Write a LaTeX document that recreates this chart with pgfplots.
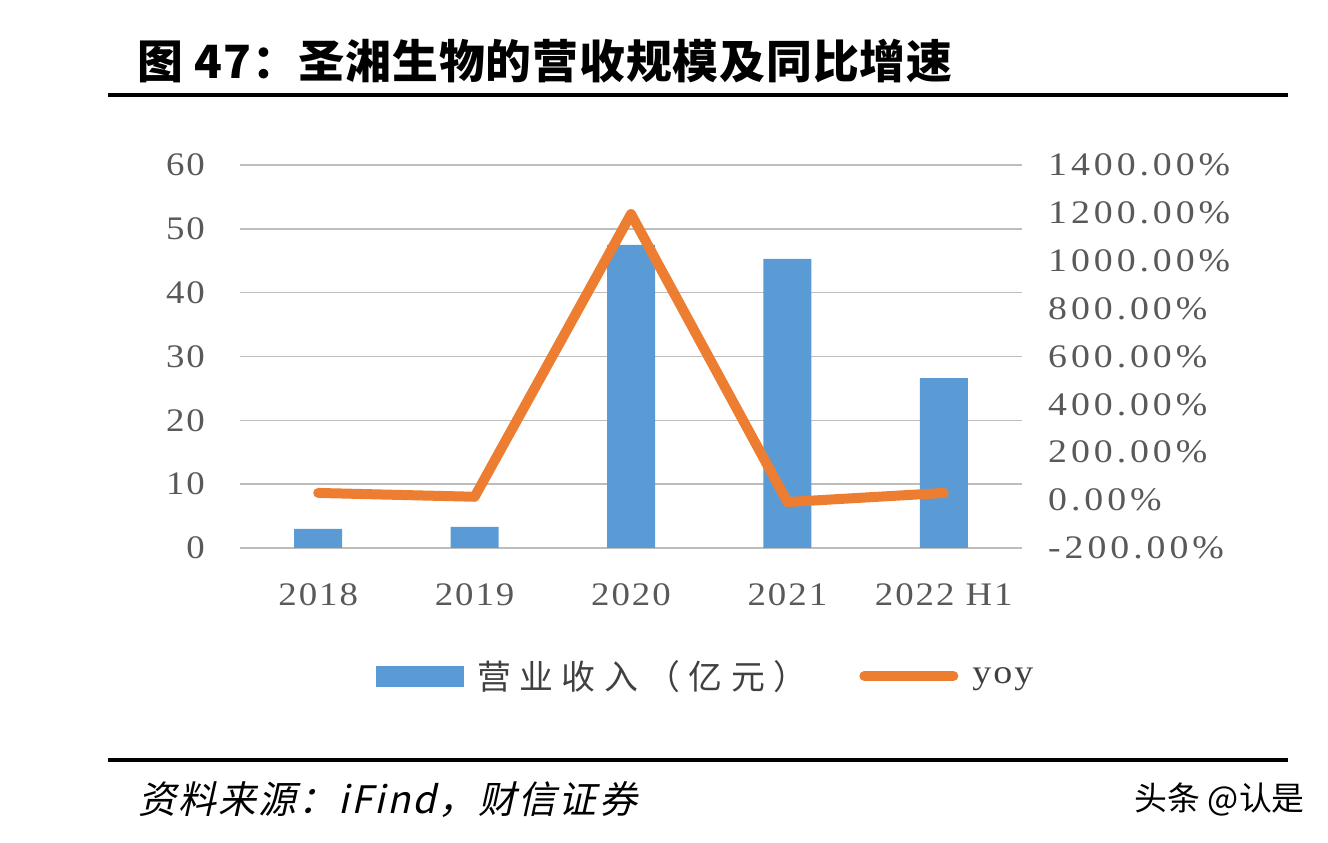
\documentclass[border=0pt]{standalone}
\usepackage{fontspec}
\setmainfont[FakeStretch=1.12, LetterSpace=6]{Liberation Serif}
\newfontfamily\cjk{Noto Sans CJK SC}
\newfontfamily\cjktitle[LetterSpace=2]{Noto Sans CJK SC}
\newfontfamily\cjkit[FakeSlant=0.22, LetterSpace=6]{Noto Sans CJK SC}
\newfontfamily\cjksp[LetterSpace=25]{Noto Sans CJK SC}
\newfontfamily\rightnum[FakeStretch=1.15, LetterSpace=12]{Liberation Serif}
\usepackage{pgfplots}
\pgfplotsset{compat=1.18}

\definecolor{barblue}{HTML}{5B9BD5}
\definecolor{lineorange}{HTML}{ED7D31}
\definecolor{ticktext}{HTML}{595959}
\definecolor{gridgray}{HTML}{BDBDBD}
\definecolor{legtext}{HTML}{404040}

\pgfplotsset{
  chartbase/.style={
    at={(240bp,294bp)}, anchor=south west,
    scale only axis, width=782bp, height=383bp,
    xmin=-0.5, xmax=4.5,
    axis line style={draw=none},
    major tick length=0pt,
    tick label style={font=\fontsize{33}{36}\selectfont, text=ticktext, inner sep=0pt},
  }
}

\begin{document}
\begin{tikzpicture}[x=1bp,y=1bp]
\path[use as bounding box] (0,0) rectangle (1328,842);

% title and rules
\node[anchor=west, inner sep=0pt, font=\cjktitle\bfseries\fontsize{46}{50}\selectfont] at (137,781) {图 47：圣湘生物的营收规模及同比增速};
\draw[line width=3.5bp] (108,747) -- (1288,747);
\draw[line width=3.5bp] (108,82) -- (1288,82);
\node[anchor=west, inner sep=0pt, font=\cjkit\fontsize{38}{41}\selectfont] at (138,42) {资料来源：iFind，财信证券};
\node[anchor=east, inner sep=0pt, font=\cjk\fontsize{33}{36}\selectfont] at (1305,42) {头条 @认是};

% revenue bars, left axis
\begin{axis}[chartbase,
  ybar, bar width=48bp,
  ymin=0, ymax=60,
  ytick={0,10,20,30,40,50,60},
  yticklabels={0,10,20,30,40,50,60},
  xtick={0,1,2,3,4},
  xticklabels={2018,2019,2020,2021,2022 H1},
  ymajorgrids, grid style={gridgray, line width=1.6bp},
  yticklabel style={anchor=east, xshift=-35bp},
  xticklabel style={anchor=north, yshift=-35bp},
]
\addplot[fill=barblue, draw=none] coordinates {
(0,3.0)
(1,3.3)
(2,47.5)
(3,45.3)
(4,26.6)
};
\end{axis}

% yoy line, right axis
\begin{axis}[chartbase,
  ymin=-200, ymax=1400,
  ytick={-200,0,200,400,600,800,1000,1200,1400},
  yticklabels={-200.00\%,0.00\%,200.00\%,400.00\%,600.00\%,800.00\%,1000.00\%,1200.00\%,1400.00\%},
  yticklabel pos=right,
  yticklabel style={anchor=west, xshift=26bp, font=\rightnum\fontsize{33}{36}\selectfont},
  xtick=\empty,
  legend columns=-1,
  legend style={at={(0.594,-0.334)}, anchor=center, draw=none, fill=none,
    text=legtext, font=\fontsize{34}{38}\selectfont,
    nodes={inner sep=0pt},
    /tikz/every odd column/.append style={column sep=14bp},
    /tikz/every even column/.append style={column sep=52bp}},
]
\addlegendimage{legend image code/.code={\fill[barblue] (0bp,-10bp) rectangle (87bp,10bp);}}
\addlegendentry{{\cjksp 营业收入（亿元）}}
\addplot[lineorange, line width=10bp, line join=round, line cap=round,
  legend image code/.code={\draw[lineorange, line width=10bp, line cap=round] (3bp,0bp) -- (92bp,0bp);}]
  coordinates {
(0,30)
(1,14)
(2,1195)
(3,-8)
(4,30)
};
\addlegendentry{yoy}
\end{axis}
\end{tikzpicture}
\end{document}
